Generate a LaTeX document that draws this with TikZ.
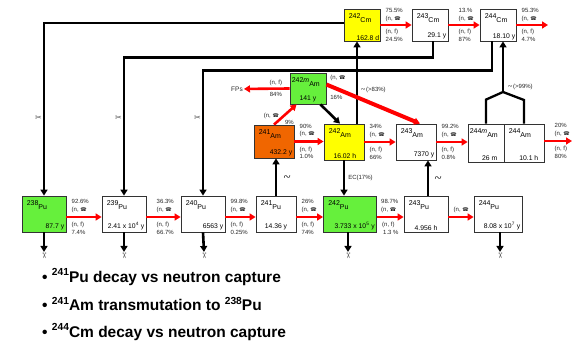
\documentclass[tikz,border=0pt]{standalone}
\usepackage{fontspec}
\setmainfont{Liberation Sans}
\newfontfamily\dvsans{DejaVu Sans}
\usetikzlibrary{arrows.meta}

\definecolor{nucgreen}{RGB}{102,240,60}
\definecolor{nucyellow}{RGB}{255,255,0}
\definecolor{nucorange}{RGB}{240,102,0}

\newcommand\gam{{\dvsans\scalebox{0.85}{☎}}}
\newcommand\scis{{\dvsans ✂}}
\newcommand\betam{{\dvsans\rotatebox{20}{\scalebox{1.8}[1.1]{∿}}}}
\newcommand\nuc[2]{\raisebox{3.5pt}{#1}#2}
\newcommand\mnum[1]{\raisebox{.45em}{\scalebox{.66}{#1}}}

\begin{document}
\begin{tikzpicture}[x=1pt,y=-1pt,>={Triangle[length=6pt,width=7pt]},
   box/.style={draw=black!80,line width=0.8pt,minimum width=44pt,minimum height=36pt,inner sep=0pt},
   nm/.style={anchor=north west,inner sep=0pt,xshift=5pt,yshift=-5pt,font=\fontsize{7}{7}\selectfont},
   hl/.style={anchor=south east,inner sep=2pt,font=\fontsize{6.8}{7}\selectfont},
   capt/.style={->,red,line width=2.6pt},
   dec/.style={->,line width=2.6pt},
   alp/.style={->,line width=2.3pt},
   up/.style={pos=0,anchor=south west,align=left,text=black!85,inner sep=1pt,
     xshift=3pt,yshift=2pt,font=\fontsize{6}{7.5}\selectfont},
   dn/.style={pos=0,anchor=north west,align=left,text=black!85,inner sep=1pt,
     xshift=3pt,yshift=-3pt,font=\fontsize{6}{7.5}\selectfont},
   tag/.style={text=black!85,inner sep=1pt,font=\fontsize{6}{7.5}\selectfont},
   sc/.style={inner sep=0.5pt,text=black!70,font=\fontsize{8}{8}\selectfont},
   bul/.style={anchor=west,inner sep=0pt,font=\bfseries\fontsize{15.5}{18}\selectfont}]
 \useasboundingbox (0,0) rectangle (573,342);

 % plutonium
 \node[box,fill=nucgreen,label={[nm]north west:\nuc{238}{Pu}},label={[hl]south east:87.7 y}] (pu238) at (44,214) {};
 \node[box,label={[nm]north west:\nuc{239}{Pu}},label={[hl]south east:2.41 x 10\textsuperscript{4} y}] (pu239) at (124,214) {};
 \node[box,label={[nm]north west:\nuc{240}{Pu}},label={[hl]south east:6563 y}] (pu240) at (203,214) {};
 \node[box,minimum width=40pt,label={[nm]north west:\nuc{241}{Pu}},label={[hl,anchor=south]south:14.36 y}] (pu241) at (276,214) {};
 \node[box,fill=nucgreen,minimum width=53pt,label={[nm]north west:\nuc{242}{Pu}},label={[hl]south east:3.733 x 10\textsuperscript{5} y}] (pu242) at (350,214) {};
 \node[box,label={[nm]north west:\nuc{243}{Pu}},label={[hl,anchor=south]south:4.956 h}] (pu243) at (426,214) {};
 \node[box,minimum width=48pt,label={[nm]north west:\nuc{244}{Pu}},label={[hl]south east:8.08 x 10\textsuperscript{7} y}] (pu244) at (498,214) {};

 % americium
 \node[box,fill=nucorange,minimum width=40pt,minimum height=33pt,label={[nm]north west:\nuc{241}{Am}},label={[hl]south east:432.2 y}] (am241) at (274,141.5) {};
 \node[box,fill=nucyellow,minimum width=40pt,label={[nm]north west:\nuc{242}{Am}},label={[hl,xshift=-6pt]south east:16.02 h}] (am242) at (344,142) {};
 \node[box,minimum width=40pt,label={[nm]north west:\nuc{243}{Am}},label={[hl]south east:7370 y}] (am243) at (416,142) {};
 \node[box,minimum width=36pt,minimum height=38pt,label={[nm,xshift=-3pt]north west:\nuc{244\textit{m}}{Am}},label={[hl,xshift=-5pt]south east:26 m}] (am244m) at (486,143) {};
 \node[box,minimum width=40pt,minimum height=38pt,label={[nm]north west:\nuc{244}{Am}},label={[hl,xshift=-4pt]south east:10.1 h}] (am244) at (524,143) {};
 \node[box,fill=nucgreen,minimum width=36pt,minimum height=31pt,label={[nm,xshift=-3pt]north west:\nuc{242\textit{m}}{Am}},label={[hl,anchor=south]south:141 y}] (am242m) at (308,88.5) {};
 \node[tag,font=\fontsize{6.5}{7}\selectfont] (fps) at (237,89) {FPs};

 % curium
 \node[box,fill=nucyellow,minimum width=36pt,minimum height=32pt,label={[nm]north west:\nuc{242}{Cm}},label={[hl,inner sep=1pt]south east:162.8 d}] (cm242) at (362,25) {};
 \node[box,minimum width=36pt,minimum height=32pt,label={[nm]north west:\nuc{243}{Cm}},label={[hl]south east:29.1 y}] (cm243) at (430,25) {};
 \node[box,minimum width=36pt,minimum height=32pt,label={[nm]north west:\nuc{244}{Cm}},label={[hl,inner sep=1pt]south east:18.10 y}] (cm244) at (498,25) {};
 \coordinate (amout) at (572,141);
 \coordinate (cmout) at (548,25);
 \coordinate (j244) at (503,92);

 % scissors below
 \node[sc] (x238) at (44,256) {\rotatebox{-90}{\scis}};
 \node[sc] (x239) at (124,256) {\rotatebox{-90}{\scis}};
 \node[sc] (x240) at (204,256) {\rotatebox{-90}{\scis}};
 \node[sc] (x242) at (348,256) {\rotatebox{-90}{\scis}};
 \node[sc] (x244) at (500,256) {\rotatebox{-90}{\scis}};

 % alpha paths from curium
 \draw[alp] ([yshift=2pt]cm242.west) -| node[sc,pos=0.775,left=0.5pt]{\scis} (pu238.north);
 \draw[alp] ([xshift=3pt]cm243.south) -- ++(0,16) -| node[sc,pos=0.72,left=0.5pt]{\scis} (pu239.north);
 \draw[alp] ([xshift=-6pt]cm244.south) -- ++(0,29) -| node[sc,pos=0.69,left=0.5pt]{\scis} (pu240.north);

 % decays
 \draw[dec] (pu238.south) -- (x238.north);
 \draw[dec] (pu239.south) -- (x239.north);
 \draw[dec] (pu240.south) -- (x240.north);
 \draw[dec] ([xshift=-2pt]pu242.south) -- (x242.north);
 \draw[dec] ([xshift=2pt]pu244.south) -- (x244.north);
 \draw[dec] (pu241.north) -- (pu241.north |- am241.south) node[tag,midway,right=4pt]{\betam};
 \draw[dec] ([xshift=2pt]pu243.north) -- ([xshift=2pt]pu243.north |- am243.south) node[tag,midway,right=3pt]{\betam};
 \draw[dec] (am242.south) -- (am242.south |- pu242.north) node[tag,midway,right=2pt]{EC(17\%)};
 \draw[dec] ([xshift=-6pt]am242m.south east) -- ([xshift=-4pt]am242.north);
 \draw[dec] ([xshift=13pt]am242.north) -- ([xshift=13pt]am242.north |- cm242.south)
   node[tag,pos=0.41,right=1pt]{\scalebox{0.6}{\betam}(>83\%)};
 \draw[line width=2.3pt] (am244m.north) -- ++(0,-24) -- (j244) -- (am244.north |- 0,100) -- (am244.north);
 \draw[dec] (j244) -- (j244 |- cm244.south) node[tag,pos=0.1,right=2pt]{\scalebox{0.6}{\betam}(>99\%)};

 % captures: plutonium
 \draw[capt] ([yshift=-3pt]pu238.east) -- ([yshift=-3pt]pu239.west) node[up]{92.6\%\\(n, \gam} node[dn]{(n, f)\\7.4\%};
 \draw[capt] ([yshift=-3pt]pu239.east) -- ([yshift=-3pt]pu240.west) node[up,xshift=5pt]{36.3\%\\(n, \gam} node[dn,xshift=5pt]{(n, f)\\66.7\%};
 \draw[capt] ([yshift=-3pt]pu240.east) -- ([yshift=-3pt]pu241.west) node[up]{99.8\%\\(n, \gam} node[dn]{(n, f)\\0.25\%};
 \draw[capt] ([yshift=-3pt]pu241.east) -- ([yshift=-3pt]pu242.west) node[up]{26\%\\(n, \gam} node[dn]{(n, f)\\74\%};
 \draw[capt] ([yshift=-3pt]pu242.east) -- ([yshift=-3pt]pu243.west) node[up,xshift=-1pt]{98.7\%\\(n, \gam} node[dn]{(n, f)\\\hspace*{1pt}1.3 \%};
 \draw[capt] ([yshift=-3pt]pu243.east) -- ([yshift=-3pt]pu244.west) node[up]{(n, \gam};

 % captures: americium
 \draw[capt] (am241.east) -- (am241.east -| am242.west) node[up]{90\%\\(n, \gam} node[dn]{(n, f)\\1.0\%};
 \draw[capt] (am242.east) -- (am243.west) node[up]{34\%\\(n, \gam} node[dn]{(n, f)\\66\%};
 \draw[capt] (am243.east) -- (am243.east -| am244m.west) node[up]{99.2\%\\(n, \gam} node[dn]{(n, f)\\0.8\%};
 \draw[capt] (am244.east |- amout) -- (amout) node[up,xshift=5pt]{20\%\\(n, \gam} node[dn,xshift=5pt]{(n, f)\\80\%};
 \draw[capt] (am242m.west) -- (fps) node[tag,pos=0.3,above=1pt]{(n, f)} node[tag,pos=0.3,below=1pt]{84\%};
 \draw[capt] (am241.north) -- ([xshift=7pt]am242m.south west)
   node[tag,pos=0.45,anchor=east,xshift=-3pt]{(n, \gam} node[tag,pos=0.12,anchor=west,xshift=6pt]{9\%};
 \draw[capt,line width=4pt] ([yshift=4pt]am242m.east) -- ([xshift=4pt]am243.north)
   node[up,xshift=-2pt,yshift=-1pt]{(n, \gam} node[dn,xshift=-2pt,yshift=-5pt]{16\%};

 % captures: curium
 \draw[capt] (cm242.east) -- (cm243.west) node[up,yshift=-1pt]{75.5\%\\(n, \gam} node[dn,yshift=1pt]{(n, f)\\24.5\%};
 \draw[capt] (cm243.east) -- (cm244.west) node[up,yshift=-1pt,xshift=5pt]{13.\%\\(n, \gam} node[dn,yshift=1pt,xshift=5pt]{(n, f)\\87\%};
 \draw[capt] (cm244.east) -- (cmout) node[up,yshift=-1pt]{95.3\%\\(n, \gam} node[dn,yshift=1pt]{(n, f)\\4.7\%};

 % notes
 \node[bul] (b1) at (42,277) {\textbullet\ \mnum{241}Pu decay vs neutron capture};
 \node[bul] (b2) at (42,304) {\textbullet\ \mnum{241}Am transmutation to \mnum{238}Pu};
 \node[bul] (b3) at (42,332) {\textbullet\ \mnum{244}Cm decay vs neutron capture};
\end{tikzpicture}
\end{document}
